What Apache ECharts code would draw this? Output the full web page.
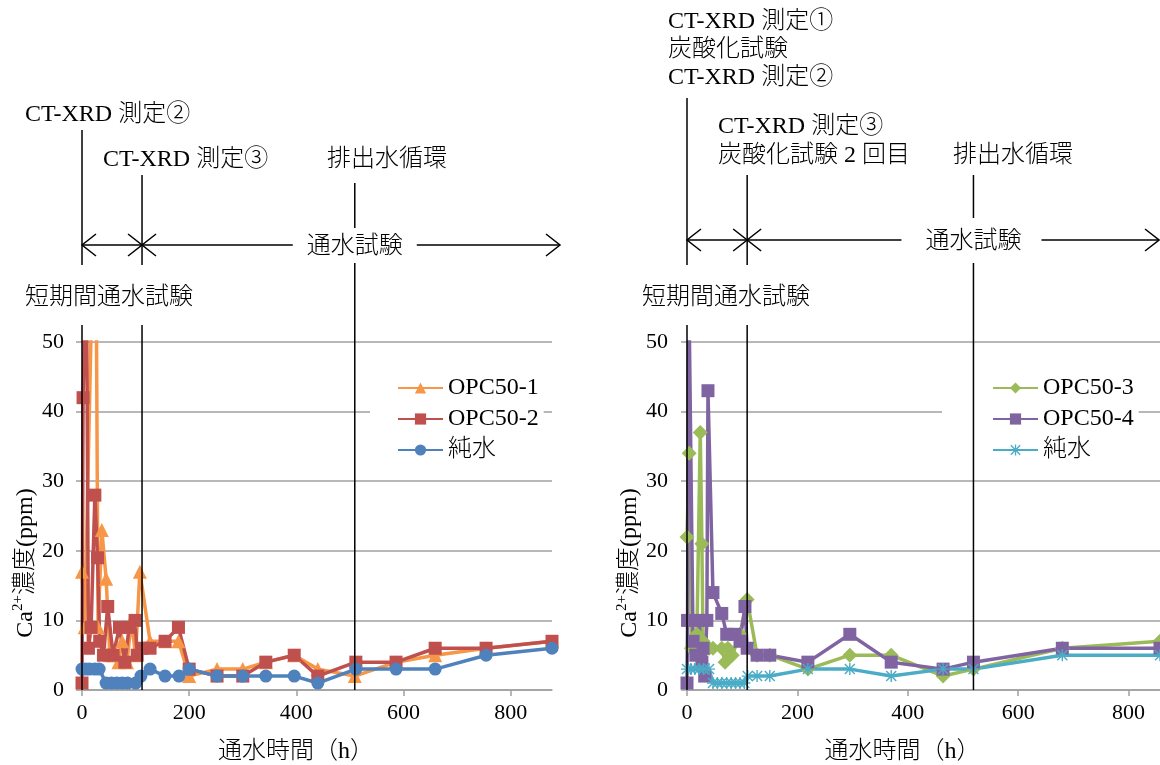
<!DOCTYPE html>
<html><head><meta charset="utf-8">
<script src="https://cdn.jsdelivr.net/npm/echarts@6/dist/echarts.min.js"></script>
<style>html,body{margin:0;padding:0;background:#fff}#c{width:1160px;height:765px}</style>
</head><body><div id="c"></div>
<script>
// ---- data (time h, Ca2+ ppm) ----
const tOPC1 = [0, 5, 25, 30, 37, 45, 52, 60, 68, 75, 84, 92, 100, 108, 127, 155, 180, 200, 252, 300, 343, 396, 440, 509, 586, 659, 754, 877];
const vOPC1 = [17, 9, 80, 9, 23, 16, 5, 5, 4, 7, 4, 10, 5, 17, 7, 7, 7, 2, 3, 3, 4, 5, 3, 2, 4, 5, 6, 7];
const tOPC2 = [0, 2, 8, 12, 17, 24, 29, 33, 40, 48, 58, 70, 80, 88, 99, 103, 112, 127, 155, 180, 200, 252, 300, 343, 396, 440, 511, 586, 659, 754, 877];
const vOPC2 = [1, 42, 65, 6, 9, 28, 19, 7, 5, 12, 5, 9, 4, 9, 10, 5, 6, 6, 7, 9, 3, 2, 2, 4, 5, 2, 4, 4, 6, 6, 7];
const tWaterL = [0, 7, 14, 24, 32, 45, 55, 65, 75, 85, 100, 110, 127, 155, 181, 200, 252, 300, 343, 396, 440, 511, 586, 659, 754, 877];
const vWaterL = [3, 3, 3, 3, 3, 1, 1, 1, 1, 1, 1, 2, 3, 2, 2, 3, 2, 2, 2, 2, 1, 3, 3, 3, 5, 6];

const tOPC3 = [0, 4, 8, 18, 24, 27, 29, 40, 47, 63, 69, 74, 82, 96, 109, 127, 150, 219, 295, 370, 464, 519, 680, 857];
const vOPC3 = [22, 34, 6, 8, 37, 21, 7, 6, 6, 6, 4, 6, 5, 8, 13, 5, 5, 3, 5, 5, 2, 3, 6, 7];
const tOPC4 = [0, 1, 3, 11, 16, 22, 27, 29, 32, 36, 38, 47, 63, 72, 87, 96, 105, 109, 127, 150, 219, 295, 370, 464, 519, 680, 857];
const vOPC4 = [1, 10, 60, 7, 5, 10, 4, 6, 2, 10, 43, 14, 11, 8, 8, 7, 12, 6, 5, 5, 4, 8, 4, 3, 4, 6, 6];
const tWaterR = [0, 7, 14, 22, 30, 40, 47, 55, 63, 72, 80, 88, 96, 104, 110, 127, 150, 219, 295, 370, 464, 519, 680, 857];
const vWaterR = [3, 3, 3, 3, 3, 3, 1, 1, 1, 1, 1, 1, 1, 1, 2, 2, 2, 3, 3, 2, 3, 3, 5, 5];

const eventsL = [0, 112, 509];
const eventsR = [0, 109, 519];
const xTicks = [0, 200, 400, 600, 800];
const yMax = 50;
const xMaxL = 877, xMaxR = 857;

const zip = (t, v) => t.map((x, i) => [x, v[i]]);

const FONT = "'Liberation Serif','Noto Sans CJK JP',serif";
const GRAY = '#A0A0A0';
const FS = 24;
const STAR = 'path://M5.3,0L6.7,0L6.7,12L5.3,12Z M0.5,1.5L1.5,0.5L11.5,10.5L10.5,11.5Z M10.5,0.5L11.5,1.5L1.5,11.5L0.5,10.5Z M0,5.3L12,5.3L12,6.7L0,6.7Z';

function xAxis(idx, max) {
  return {
    type: 'value', gridIndex: idx, min: 0, max: max, interval: 200,
    axisLine: {show: true, lineStyle: {color: GRAY, width: 1.5}},
    axisTick: {show: true, length: 6, customValues: xTicks, lineStyle: {color: GRAY, width: 1.5}},
    axisLabel: {customValues: xTicks, fontSize: 22, fontFamily: FONT, color: '#000', margin: 12},
    splitLine: {show: false},
    name: '通水時間（h）', nameLocation: 'middle', nameGap: 50,
    nameTextStyle: {fontSize: FS, fontFamily: FONT, fontWeight: 300, color: '#000', padding: [0, 42, 0, 0]}
  };
}
function yAxis(idx, margin, gap) {
  return {
    type: 'value', gridIndex: idx, min: 0, max: yMax, interval: 10,
    axisLine: {show: false},
    axisTick: {show: true, length: 6, lineStyle: {color: GRAY, width: 1.5}},
    axisLabel: {fontSize: 22, fontFamily: FONT, color: '#000', margin: margin},
    splitLine: {show: true, lineStyle: {color: GRAY, width: 1.5}},
    name: '{a|Ca}{s|2+}{a|濃度(ppm)}', nameLocation: 'middle', nameRotate: 90, nameGap: gap,
    nameTextStyle: {
      color: '#000', padding: [0, 94, 0, 0],
      rich: {
        a: {fontSize: FS, fontFamily: FONT, fontWeight: 300, color: '#000', lineHeight: 28, verticalAlign: 'bottom'},
        s: {fontSize: 15, fontFamily: FONT, color: '#000', lineHeight: 28, verticalAlign: 'top'}
      }
    }
  };
}
function line(name, data, color, symbol, size, xi) {
  return {
    type: 'line', name: name, data: data, xAxisIndex: xi, yAxisIndex: xi,
    symbol: symbol, symbolSize: size, clip: true,
    lineStyle: {color: color, width: 3.5},
    itemStyle: {color: color},
    emphasis: {disabled: true}
  };
}
function legend(names, left, padLeft) {
  return {
    data: names, orient: 'vertical', left: left, top: 366,
    itemWidth: 45, itemHeight: 14, itemGap: 7,
    backgroundColor: '#fff', padding: [10, 5, 10, padLeft],
    textStyle: {fontSize: FS, fontFamily: FONT, fontWeight: 300, color: '#000', lineHeight: 24}
  };
}

const chart = echarts.init(document.getElementById('c'));
chart.setOption({
  animation: false,
  grid: [
    {left: 82, top: 342, width: 470, height: 348},
    {left: 687, top: 342, width: 473, height: 348}
  ],
  xAxis: [xAxis(0, xMaxL), xAxis(1, xMaxR)],
  yAxis: [yAxis(0, 18, 38), yAxis(1, 19, 44)],
  legend: [
    legend(['OPC50-1', 'OPC50-2', '純水'], 370, 27),
    legend(['OPC50-3', 'OPC50-4', '純水 '], 942, 50)
  ],
  series: [
    line('OPC50-1', zip(tOPC1, vOPC1), '#F79646', 'triangle', 14, 0),
    line('OPC50-2', zip(tOPC2, vOPC2), '#C0504D', 'rect', 13, 0),
    line('純水', zip(tWaterL, vWaterL), '#4F81BD', 'circle', 13, 0),
    line('OPC50-3', zip(tOPC3, vOPC3), '#9BBB59', 'diamond', 15, 1),
    line('OPC50-4', zip(tOPC4, vOPC4), '#8064A2', 'rect', 13, 1),
    line('純水 ', zip(tWaterR, vWaterR), '#4BACC6', STAR, 12, 1)
  ]
});

// ---- annotations positioned from the axes ----
const g = [];
const LS = {stroke: '#000', lineWidth: 1.5};
function vline(x, y1, y2) { g.push({type: 'line', shape: {x1: x, y1: y1, x2: x, y2: y2}, style: LS, z: 50}); }
function hline(x1, x2, y) { g.push({type: 'line', shape: {x1: x1, y1: y, x2: x2, y2: y}, style: LS, z: 50}); }
function head(x, y, dir) { g.push({type: 'polyline', shape: {points: [[x - dir * 14, y - 11], [x, y], [x - dir * 14, y + 11]]}, style: {stroke: '#000', lineWidth: 1.5, fill: null}, z: 50}); }
function txt(s, x, y, align) { g.push({type: 'text', x: x, y: y, style: {text: s, fontSize: FS, fontFamily: FONT, fontWeight: 300, fill: '#000', align: align || 'left', verticalAlign: 'middle'}, z: 50}); }

function annot(xi, ev, arrowY, arrowEnd, gapL, gapR, evTop, ev2Upper) {
  const p = ev.map(v => chart.convertToPixel({xAxisIndex: xi}, v));
  vline(p[0], evTop[0], 265); vline(p[0], 325, 690);
  vline(p[1], evTop[1], 265); vline(p[1], 325, 690);
  vline(p[2], ev2Upper[0], ev2Upper[1]); vline(p[2], 263, 690);
  hline(p[0], p[1], arrowY); head(p[0], arrowY, -1); head(p[1], arrowY, 1); head(p[1], arrowY, -1);
  hline(p[1], p[2] - gapL, arrowY); hline(p[2] + gapR, arrowEnd, arrowY); head(arrowEnd, arrowY, 1);
  txt('通水試験', p[2], arrowY + 2, 'center');
  return p;
}

annot(0, eventsL, 245, 560, 62, 62, [130, 175], [183, 228]);
txt('CT-XRD 測定②', 25, 115);
txt('CT-XRD 測定③', 103, 160);
txt('排出水循環', 327, 160);
txt('短期間通水試験', 25, 298);

annot(1, eventsR, 240, 1159, 72, 68, [98, 175], [175, 218]);
txt('CT-XRD 測定①', 668, 22);
txt('炭酸化試験', 668, 50);
txt('CT-XRD 測定②', 668, 78);
txt('CT-XRD 測定③', 718, 127);
txt('炭酸化試験 2 回目', 718, 156);
txt('排出水循環', 953, 156);
txt('短期間通水試験', 642, 298);

chart.setOption({graphic: g});
</script></body></html>
